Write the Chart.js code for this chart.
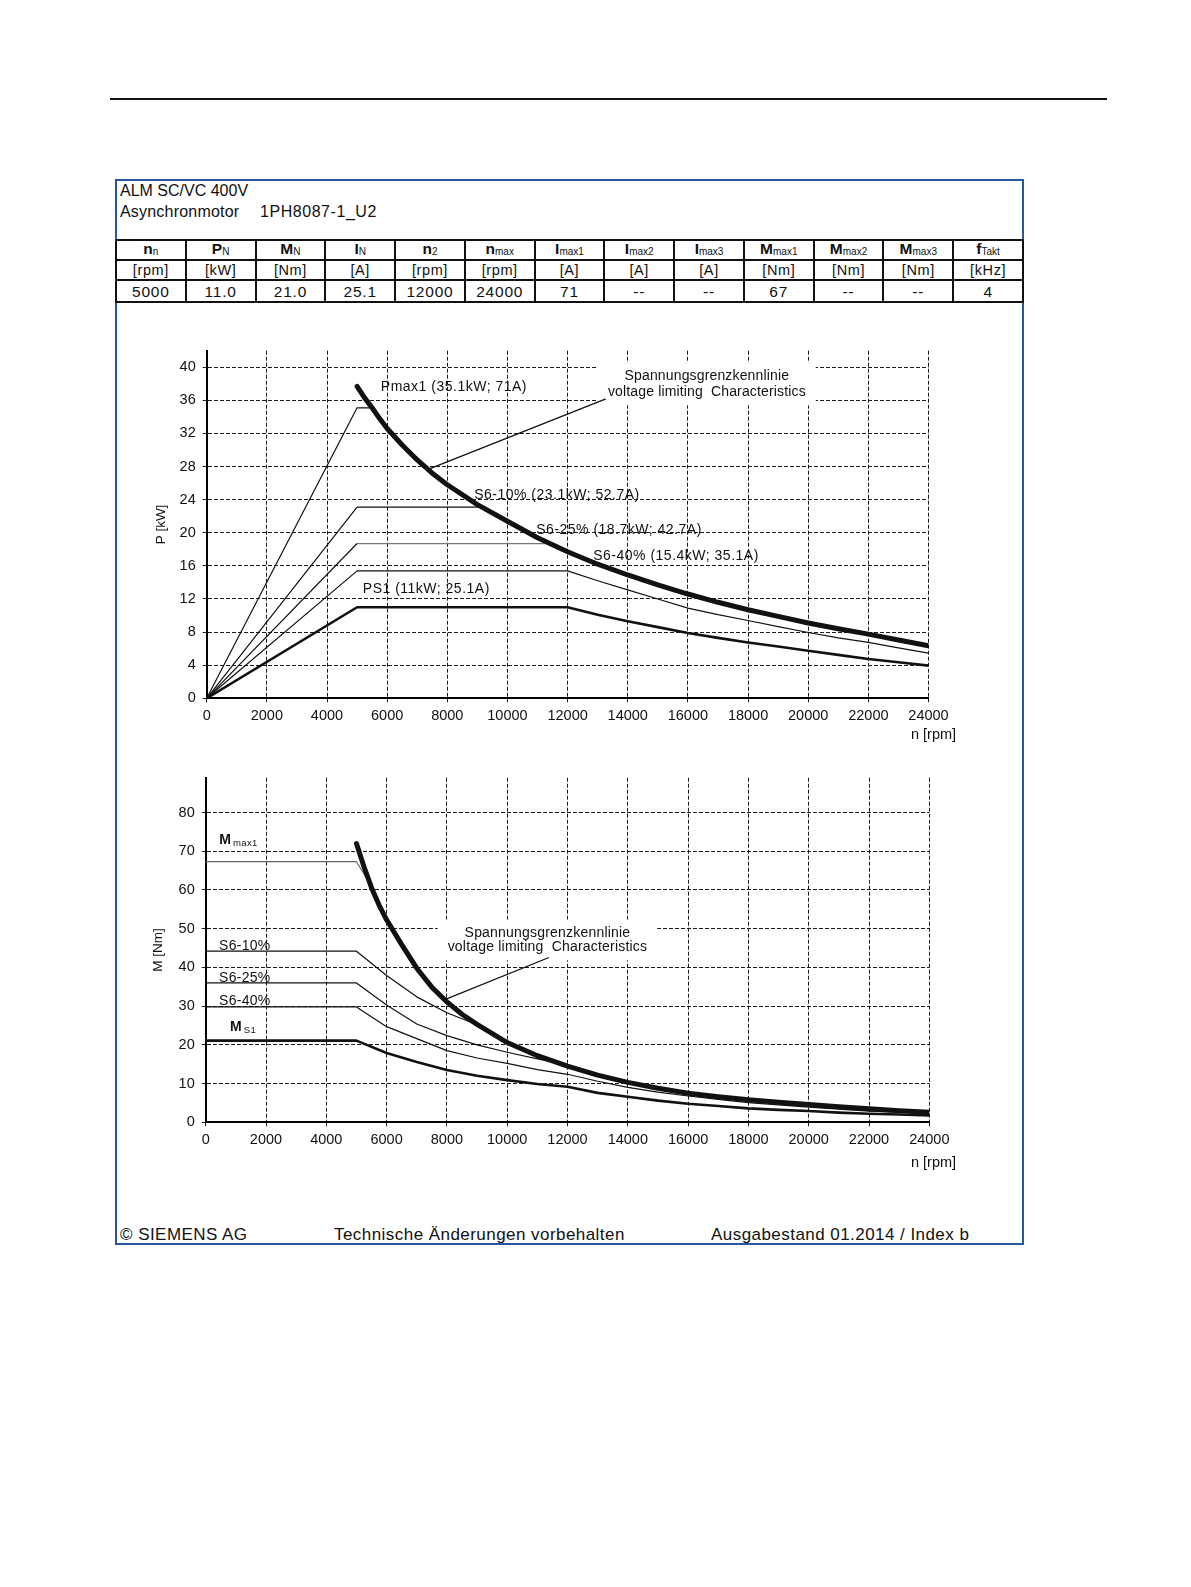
<!DOCTYPE html>
<html><head><meta charset="utf-8">
<script src="https://cdn.jsdelivr.net/npm/chart.js@4.4.1/dist/chart.umd.min.js"></script>
<style>
body{margin:0;background:#fff;font-family:"Liberation Sans",Arial,sans-serif;color:#111;}
#page{position:relative;width:1191px;height:1587px;overflow:hidden;}
.abs{position:absolute;white-space:pre;}
.rule{position:absolute;left:110px;top:98px;width:997px;height:2px;background:#111;}
.frame{position:absolute;left:115px;top:179px;width:905px;height:1062px;border:2px solid #2a55a0;}
#tbl{position:absolute;left:115px;top:239px;width:909px;border-collapse:collapse;table-layout:fixed;}
#tbl td{border:2px solid #111;text-align:center;padding:0;font-size:15px;line-height:15px;}
#tbl tr.h td{height:15px;vertical-align:bottom;}
#tbl tr.u td{height:18px;letter-spacing:0.6px;font-size:14.5px;}
#tbl tr.v td{height:20px;letter-spacing:0.8px;font-size:15.5px;}
#tbl b{font-size:15.5px;}
#tbl sub{font-size:10px;vertical-align:-1px;font-weight:normal;}
.chartbox{position:absolute;}
.foot{font-size:17px;line-height:19px;letter-spacing:0.45px;}
.axn{font-size:14.5px;line-height:17px;}
</style></head>
<body><div id="page">
<div class="rule"></div>
<div class="frame"></div>
<div class="abs" style="left:120px;top:182px;font-size:16px;line-height:18px;">ALM SC/VC 400V</div>
<div class="abs" style="left:120px;top:203px;font-size:16px;line-height:18px;letter-spacing:0.2px;">Asynchronmotor</div>
<div class="abs" style="left:260px;top:203px;font-size:16px;line-height:18px;letter-spacing:0.55px;">1PH8087-1_U2</div>
<table id="tbl"></table>
<div class="chartbox" style="left:130px;top:335px;"><canvas id="cP" width="830" height="410" style="width:830px;height:410px;"></canvas></div>
<div class="abs axn" style="left:911px;top:726px;">n [rpm]</div>
<div class="chartbox" style="left:130px;top:762px;"><canvas id="cM" width="830" height="410" style="width:830px;height:410px;"></canvas></div>
<div class="abs axn" style="left:911px;top:1154px;">n [rpm]</div>
<div class="abs foot" style="left:120px;top:1225px;">© SIEMENS AG</div>
<div class="abs foot" style="left:334px;top:1225px;">Technische Änderungen vorbehalten</div>
<div class="abs foot" style="left:711px;top:1225px;">Ausgabestand 01.2014 / Index b</div>
</div>
<script>
// ---------- table data ----------
const TABLE_SYM  = ['n','P','M','I','n','n','I','I','I','M','M','M','f'];
const TABLE_SUB  = ['n','N','N','N','2','max','max1','max2','max3','max1','max2','max3','Takt'];
const TABLE_UNIT = ['[rpm]','[kW]','[Nm]','[A]','[rpm]','[rpm]','[A]','[A]','[A]','[Nm]','[Nm]','[Nm]','[kHz]'];
const TABLE_VAL  = ['5000','11.0','21.0','25.1','12000','24000','71','--','--','67','--','--','4'];

// ---------- axis ticks ----------
const X_TICKS = [0,2000,4000,6000,8000,10000,12000,14000,16000,18000,20000,22000,24000];
const P_TICKS = [0,4,8,12,16,20,24,28,32,36,40];
const M_TICKS = [0,10,20,30,40,50,60,70,80];

// ---------- upper chart: power P [kW] vs n [rpm] ----------
const P_VLIM_N = [5000,5250,5500,5750,6000,6500,7000,7500,8000,9000,10000,11000,12000,13000,14000,15000,16000,17000,18000,19000,20000,21000,22000,23000,24000];
const P_VLIM   = [37.7,36.3,35.1,33.8,32.6,30.6,28.8,27.2,25.8,23.4,21.4,19.4,17.7,16.2,14.9,13.7,12.6,11.6,10.7,9.9,9.1,8.4,7.75,7.05,6.35];
const P_MAX1_N = [0,5000,5500];
const P_MAX1   = [0,35.1,35.1];
const P_S610_N = [0,5000,9200];
const P_S610   = [0,23.1,23.1];
const P_S625_N = [0,5000,11500];
const P_S625   = [0,18.7,18.7];
const P_S640_N = [0,5000,12000,13000,14000,15000,16000,17000,18000,19000,20000,21000,22000,23000,24000];
const P_S640   = [0,15.4,15.4,14.2,13.1,12.0,10.9,10.1,9.4,8.65,7.95,7.3,6.75,6.1,5.45];
const P_S1_N   = [0,5000,12000,13000,14000,15000,16000,17000,18000,19000,20000,21000,22000,23000,24000];
const P_S1     = [0,11,11,10.1,9.3,8.6,7.9,7.3,6.75,6.25,5.75,5.25,4.75,4.35,3.95];
const P_LEADER_N = [13252,7320];
const P_LEADER   = [36.15,27.6];

// ---------- lower chart: torque M [Nm] vs n [rpm] ----------
const M_VLIM_N = [5000,5250,5500,5750,6000,6500,7000,7500,8000,8500,9000,10000,11000,12000,13000,14000,15000,16000,17000,18000,19000,20000,21000,22000,23000,24000];
const M_VLIM   = [72,66,60.6,56.1,52.3,45.9,39.8,34.9,31.1,27.9,25.3,20.6,17.2,14.5,12.2,10.3,8.8,7.5,6.6,5.8,5.2,4.6,4.0,3.5,3.0,2.6];
const M_MAX1_N = [0,5000,5500];
const M_MAX1   = [67.3,67.3,61];
const M_S610_N = [0,5000,6000,7000,8000,9000];
const M_S610   = [44.2,44.2,37.9,32.4,28.3,25.2];
const M_S625_N = [0,5000,6000,7000,8000,9000,10000,11000,11500];
const M_S625   = [36,36,30.3,25.4,22.4,20,18.1,16.4,15.6];
const M_S640_N = [0,5000,6000,7000,8000,9000,10000,11000,12000,13000,14000,15000,16000,17000,18000,19000,20000,21000,22000,23000,24000];
const M_S640   = [29.8,29.8,24.7,21.6,18.5,16.6,15.2,13.6,12.4,10.6,9.0,7.8,6.8,5.9,5.1,4.5,3.9,3.4,2.9,2.6,2.3];
const M_S1_N   = [0,5000,6000,7000,8000,9000,10000,11000,12000,13000,14000,15000,16000,17000,18000,19000,20000,21000,22000,23000,24000];
const M_S1     = [21.1,21.1,17.9,15.6,13.5,12.0,10.9,9.9,9.2,7.6,6.6,5.6,4.8,4.2,3.6,3.2,2.9,2.5,2.2,2.0,1.8];
const M_LEADER_N = [11364,7971];
const M_LEADER   = [42.5,31.8];

// ---------- build table ----------
(function(){
  const t = document.getElementById('tbl');
  const h = document.createElement('tr'); h.className='h';
  const u = document.createElement('tr'); u.className='u';
  const v = document.createElement('tr'); v.className='v';
  TABLE_SYM.forEach((s,i)=>{
    const a=document.createElement('td'); a.innerHTML='<b>'+s+'</b><sub>'+TABLE_SUB[i]+'</sub>'; h.appendChild(a);
    const b=document.createElement('td'); b.textContent=TABLE_UNIT[i]; u.appendChild(b);
    const c=document.createElement('td'); c.textContent=TABLE_VAL[i]; v.appendChild(c);
  });
  t.appendChild(h); t.appendChild(u); t.appendChild(v);
})();

const FAM = '"Liberation Sans", Arial, sans-serif';
const INK = '#111';
const zip = (xs, ys) => xs.map((x,i)=>({x:x, y:ys[i]}));

function spacing(ctx, v){ if ('letterSpacing' in ctx) ctx.letterSpacing = v; }

const annot = {
  id:'annot',
  beforeDatasetsDraw(chart, args, o){
    const {ctx} = chart; const x = chart.scales.x, y = chart.scales.y;
    const b = o.box; if(!b) return;
    ctx.save();
    ctx.font = '14px ' + FAM;
    spacing(ctx, b.ls);
    const w = Math.max(...b.lines.map(l=>ctx.measureText(l).width));
    const cx = x.getPixelForValue(b.x), cy = y.getPixelForValue(b.y);
    const h = b.gap * b.lines.length;
    ctx.fillStyle = '#fff';
    ctx.fillRect(cx - w/2 - 10, cy - h/2 - 6, w + 20, h + 12);
    ctx.fillStyle = INK; ctx.textAlign='center'; ctx.textBaseline='middle';
    b.lines.forEach((l,i)=>ctx.fillText(l, cx, cy - h/2 + b.gap*(i+0.5)));
    ctx.restore();
  },
  afterDatasetsDraw(chart, args, o){
    const {ctx} = chart; const x = chart.scales.x, y = chart.scales.y;
    ctx.save();
    ctx.fillStyle = INK; ctx.textAlign='left'; ctx.textBaseline='middle';
    (o.labels||[]).forEach(l=>{
      const px = x.getPixelForValue(l.x), py = y.getPixelForValue(l.y);
      if(l.sub){
        spacing(ctx, '0px');
        ctx.font = 'bold 14px ' + FAM;
        ctx.fillText(l.t, px, py);
        const w = ctx.measureText(l.t).width;
        ctx.font = '9.5px ' + FAM;
        spacing(ctx, '0.4px');
        ctx.fillText(l.sub, px + w + 2, py + 3);
      } else {
        ctx.font = '14px ' + FAM;
        spacing(ctx, o.ls);
        ctx.fillText(l.t, px, py);
      }
    });
    ctx.restore();
  }
};

function line(xs, ys, width, color){
  return {data: zip(xs, ys), borderColor: color || INK, borderWidth: width, pointRadius:0, tension:0, fill:false, borderCapStyle:'round', borderJoinStyle:'round'};
}

function options(cfg){
  const tickFont = {family: FAM, size: 14.5};
  return {
    responsive:false, animation:false, events:[],
    layout:{padding:{left:0, top:cfg.padTop, right:cfg.padRight, bottom:0}},
    plugins:{legend:{display:false}, tooltip:{enabled:false}, annot: cfg.annot},
    scales:{
      x:{type:'linear', min:0, max:24000,
        afterBuildTicks: s => { s.ticks = X_TICKS.map(v=>({value:v})); },
        afterFit: s => { s.height = cfg.xH; },
        ticks:{font:tickFont, color:INK, padding:5, maxRotation:0, autoSkip:false, callback: v => String(v)},
        grid:{color:'#1a1a1a', lineWidth:1, tickLength:4},
        border:{display:true, color:'#000', width:2, dash:[4,2]}
      },
      y:{type:'linear', min:0, max:cfg.yMax,
        afterBuildTicks: s => { s.ticks = cfg.yTicks.map(v=>({value:v})); },
        afterFit: s => { s.width = cfg.yW; },
        ticks:{font:tickFont, color:INK, padding:7, autoSkip:false, callback: v => String(v)},
        grid:{color:'#1a1a1a', lineWidth:1, tickLength:4},
        border:{display:true, color:'#000', width:2, dash:[4,2]},
        title:{display:true, text:cfg.yTitle, color:INK, font:{family:FAM, size:13.5}, padding:{top:cfg.titlePad, bottom:0}}
      }
    }
  };
}

const s625 = line(P_S625_N, P_S625, 1.2);
s625.segment = {borderColor: c => (c.p0.parsed.x >= 5000 ? '#777' : INK)};

new Chart(document.getElementById('cP'), {
  type:'line',
  data:{datasets:[
    line(P_VLIM_N, P_VLIM, 5),
    line(P_LEADER_N, P_LEADER, 1.3),
    line(P_MAX1_N, P_MAX1, 1.2),
    line(P_S610_N, P_S610, 1.2),
    s625,
    line(P_S640_N, P_S640, 1.2),
    line(P_S1_N, P_S1, 2.6)
  ]},
  options: options({padTop:10, padRight:31.5, xH:46.7, yW:76.7, yMax:42, yTicks:P_TICKS, yTitle:'P [kW]', titlePad:23.6,
    annot:{
      ls:'0.5px',
      box:{lines:['Spannungsgrenzkennlinie','voltage limiting  Characteristics'], x:16630, y:37.97, gap:15.3, ls:'0.15px'},
      labels:[
        {t:'Pmax1 (35.1kW; 71A)', x:5789, y:37.6},
        {t:'S6-10% (23.1kW; 52.7A)', x:8893, y:24.6},
        {t:'S6-25% (18.7kW; 42.7A)', x:10956, y:20.26},
        {t:'S6-40% (15.4kW; 35.1A)', x:12852, y:17.2},
        {t:'PS1 (11kW; 25.1A)', x:5190, y:13.2}
      ]}
  }),
  plugins:[annot]
});

new Chart(document.getElementById('cM'), {
  type:'line',
  data:{datasets:[
    line(M_VLIM_N, M_VLIM, 5),
    line(M_LEADER_N, M_LEADER, 1.3),
    line(M_MAX1_N, M_MAX1, 1.2, '#666'),
    line(M_S610_N, M_S610, 1.2),
    line(M_S625_N, M_S625, 1.2),
    line(M_S640_N, M_S640, 1.2),
    line(M_S1_N, M_S1, 2.6)
  ]},
  options: options({padTop:10.7, padRight:30.7, xH:49.7, yW:75.7, yMax:89, yTicks:M_TICKS, yTitle:'M [Nm]', titlePad:20,
    annot:{
      ls:'0.3px',
      box:{lines:['Spannungsgrenzkennlinie','voltage limiting  Characteristics'], x:11335, y:47.06, gap:14.3, ls:'0.2px'},
      labels:[
        {t:'M', sub:'max1', x:451, y:72.8},
        {t:'S6-10%', x:441, y:45.5},
        {t:'S6-25%', x:441, y:37.2},
        {t:'S6-40%', x:441, y:31.3},
        {t:'M', sub:'S1', x:806, y:24.6}
      ]}
  }),
  plugins:[annot]
});
</script>
</body></html>
